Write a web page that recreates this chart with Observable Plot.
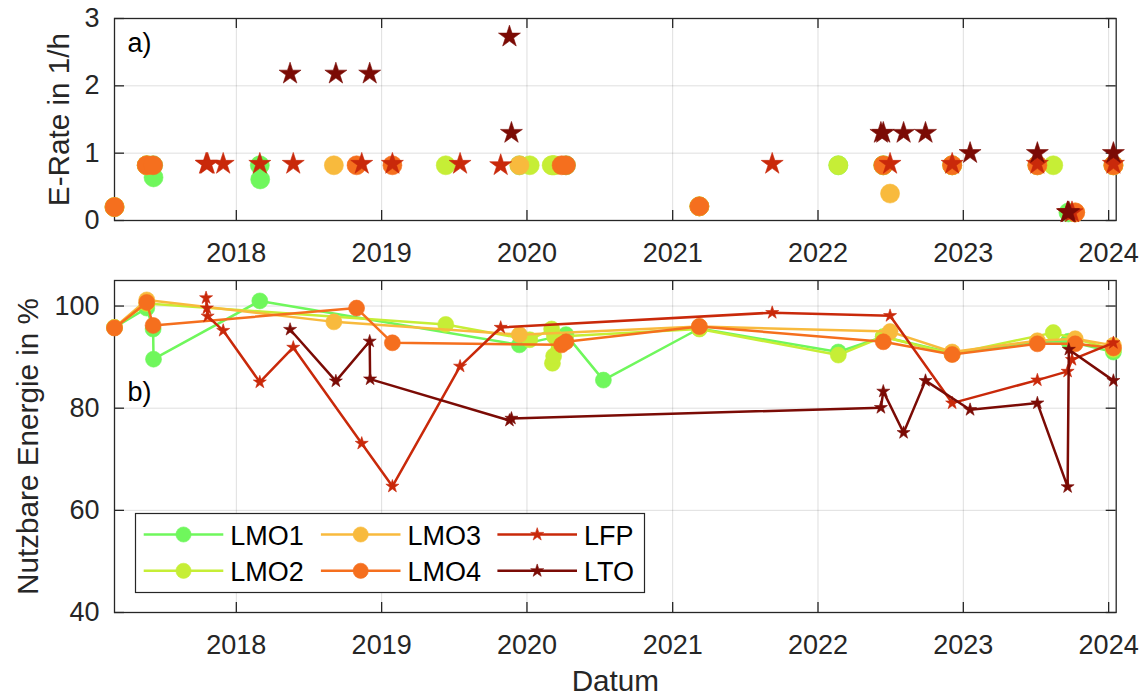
<!DOCTYPE html>
<html><head><meta charset="utf-8">
<script src="https://cdn.jsdelivr.net/npm/d3@7"></script>
<script src="https://cdn.jsdelivr.net/npm/@observablehq/plot@0.6"></script>
<style>
html,body{margin:0;padding:0;background:#fff;}
#root{position:relative;width:1145px;height:698px;overflow:hidden;background:#fff;}
#root > div{position:absolute;}
</style></head><body>
<div id="root"><div id="top" style="left:0;top:0"></div><div id="bottom" style="left:0;top:270px"></div><div id="legend" style="left:135px;top:513px"></div></div>
<script>
// ---------- data ----------
const seriesNames = ["LMO1","LMO2","LMO3","LMO4","LFP","LTO"];

const datesLMO1  = ["2017-03-01","2017-05-21","2017-06-06","2017-06-07","2018-03-01","2018-03-02","2019-12-13","2020-04-08","2020-07-11","2021-03-09","2022-02-21","2022-06-14","2022-12-04","2023-07-06","2023-09-22","2024-01-13"];
const erateLMO1  = [0.2, 0.82, 0.82, 0.64, 0.82, 0.61, 0.82, 0.82, null, 0.21, 0.82, 0.82, 0.82, 0.82, 0.12, 0.82];
const energyLMO1 = [95.8, 99.6, 95.5, 89.6, 101.0, null, 92.4, 94.4, 85.5, 95.6, 91.0, 94.0, 90.8, 93.0, 93.1, 91.0];

const datesLMO2  = ["2017-03-01","2017-05-21","2019-06-11","2020-01-08","2020-03-03","2020-03-05","2020-03-08","2020-03-10","2021-03-09","2022-02-21","2022-06-14","2022-12-04","2023-08-15","2024-01-13"];
const erateLMO2  = [0.2, 0.82, 0.82, 0.82, 0.82, 0.82, 0.82, 0.82, 0.21, 0.82, 0.82, 0.82, 0.82, 0.82];
const energyLMO2 = [95.8, 100.5, 96.4, 93.4, 95.5, 88.8, 90.2, 94.0, 95.5, 90.4, 94.0, 90.6, 94.8, 91.5];

const datesLMO3  = ["2017-03-01","2017-05-21","2018-09-03","2019-12-13","2021-03-09","2022-07-01","2022-12-04","2023-07-06","2023-10-09","2024-01-13"];
const erateLMO3  = [0.2, 0.82, 0.82, 0.82, 0.21, 0.40, 0.82, 0.82, 0.12, 0.82];
const energyLMO3 = [95.8, 101.2, 96.9, 94.4, 96.0, 95.0, 91.0, 93.2, 93.6, 92.3];

const datesLMO4  = ["2017-03-01","2017-05-21","2017-06-06","2018-10-30","2019-01-28","2020-03-28","2020-04-08","2021-03-09","2022-06-14","2022-12-04","2023-07-06","2023-10-09","2024-01-13"];
const erateLMO4  = [0.2, 0.82, 0.82, 0.82, 0.82, 0.82, 0.82, 0.21, 0.82, 0.82, 0.82, 0.12, 0.82];
const energyLMO4 = [95.7, 100.7, 96.2, 99.6, 92.8, 92.4, 93.0, 96.0, 93.0, 90.5, 92.6, 92.6, 91.8];

const datesLFP   = ["2017-10-17","2017-10-19","2017-10-21","2017-11-29","2018-03-01","2018-05-24","2018-11-12","2019-01-28","2019-07-17","2019-10-27","2021-09-08","2022-07-01","2022-12-04","2023-07-06","2023-09-20","2023-10-01","2024-01-13"];
const erateLFP   = [0.84, 0.84, 0.84, 0.84, 0.84, 0.84, 0.84, 0.84, 0.84, 0.82, 0.84, 0.84, 0.84, 0.84, 0.12, 0.12, 0.84];
const energyLFP  = [101.6, 99.6, 98.0, 95.2, 85.1, 91.9, 73.1, 64.7, 88.2, 95.8, 98.7, 98.1, 81.0, 85.5, 87.2, 89.5, 92.8];

const datesLTO   = ["2018-05-16","2018-09-08","2018-12-02","2018-12-03","2019-11-18","2019-11-23","2022-06-08","2022-06-14","2022-08-04","2022-09-28","2023-01-18","2023-07-06","2023-09-20","2023-09-23","2024-01-13"];
const erateLTO   = [2.18, 2.18, 2.18, null, 2.73, 1.30, 1.30, 1.30, 1.30, 1.30, 1.0, 1.0, 0.12, 0.12, 1.0];
const energyLTO  = [95.4, 85.3, 93.1, 85.7, 77.6, 78.0, 80.1, 83.3, 75.2, 85.4, 79.7, 81.0, 64.6, 91.5, 85.4];

const yearTicks   = [2018, 2019, 2020, 2021, 2022, 2023, 2024];
const erateTicks  = [0, 1, 2, 3];
const energyTicks = [40, 60, 80, 100];

const xLabel = "Datum";
const yLabelTop = "E-Rate in 1/h";
const yLabelBottom = "Nutzbare Energie in %";
const panelLabels = ["a)", "b)"];

// ---------- styles ----------
const seriesStyle = {
  LMO1: {color: "#6ff75c", symbol: "circle"},
  LMO2: {color: "#c6ee36", symbol: "circle"},
  LMO3: {color: "#f8ba3d", symbol: "circle"},
  LMO4: {color: "#f56f1e", symbol: "circle"},
  LFP:  {color: "#c9290a", symbol: "star"},
  LTO:  {color: "#7b0b05", symbol: "star"}
};
const seriesData = {
  LMO1: {dates: datesLMO1, erate: erateLMO1, energy: energyLMO1},
  LMO2: {dates: datesLMO2, erate: erateLMO2, energy: energyLMO2},
  LMO3: {dates: datesLMO3, erate: erateLMO3, energy: energyLMO3},
  LMO4: {dates: datesLMO4, erate: erateLMO4, energy: energyLMO4},
  LFP:  {dates: datesLFP,  erate: erateLFP,  energy: energyLFP},
  LTO:  {dates: datesLTO,  erate: erateLTO,  energy: energyLTO}
};

const W = 1145, ML = 114, MR = 29.3;
const FW = W - ML - MR;
const font = "'Liberation Sans', Arial, Helvetica, sans-serif";
const ink = "#262626";
const FS = 27, LFS = 29.7;
const xDomain = [new Date("2017-03-01"), new Date("2024-01-20")];
const yearDates = yearTicks.map(y => new Date(Date.UTC(y, 0, 1)));

function rows(name, key) {
  const s = seriesData[name];
  return s.dates.map((d, i) => ({date: new Date(d), v: s[key][i]})).filter(r => r.v != null);
}

function frameMarks(yt, fh) {
  return [
    Plot.gridX(yearDates, {stroke: "#000", strokeOpacity: 0.13, strokeWidth: 1}),
    Plot.gridY(yt, {stroke: "#000", strokeOpacity: 0.13, strokeWidth: 1}),
    Plot.frame({stroke: ink, strokeWidth: 1.3}),
    Plot.tickX(yearDates, {x: d => d, insetTop: fh - 10, stroke: ink, strokeWidth: 1.3}),
    Plot.tickX(yearDates, {x: d => d, insetBottom: fh - 10, stroke: ink, strokeWidth: 1.3}),
    Plot.tickY(yt, {y: d => d, insetRight: FW - 10, stroke: ink, strokeWidth: 1.3}),
    Plot.tickY(yt, {y: d => d, insetLeft: FW - 10, stroke: ink, strokeWidth: 1.3}),
    Plot.axisX(yearDates, {tickSize: 0, tickPadding: 22, tickFormat: d => String(d.getUTCFullYear()), fontSize: FS, fill: ink, label: null}),
    Plot.axisY(yt, {tickSize: 0, tickPadding: 15, tickFormat: d => String(d), fontSize: FS, fill: ink, label: null})
  ];
}

// ---------- top panel ----------
const topH = 270, topMT = 18, topMB = 50;
const topMarks = [...frameMarks(erateTicks, topH - topMT - topMB)];
for (const n of seriesNames) {
  const st = seriesStyle[n];
  topMarks.push(Plot.dot(rows(n, "erate"), {
    x: "date", y: "v", symbol: st.symbol, r: st.symbol === "circle" ? 9.5 : 6.9,
    fill: st.color, stroke: st.color, strokeWidth: 0.6
  }));
}
topMarks.push(Plot.text([panelLabels[0]], {text: d => d, frameAnchor: "top-left", dx: 13, dy: 33, lineAnchor: "bottom", textAnchor: "start", fontSize: FS, fill: "#000"}));
topMarks.push(Plot.text([yLabelTop], {text: d => d, frameAnchor: "left", dx: -46, rotate: -90, lineAnchor: "bottom", textAnchor: "middle", fontSize: LFS, fill: ink}));

const topPlot = Plot.plot({
  width: W, height: topH, marginLeft: ML, marginRight: MR, marginTop: topMT, marginBottom: topMB,
  x: {type: "utc", domain: xDomain},
  y: {domain: [0, 3]},
  style: {fontFamily: font, fontSize: FS + "px", color: ink, background: "transparent", overflow: "visible"},
  marks: topMarks
});
document.getElementById("top").appendChild(topPlot);

// ---------- bottom panel ----------
const botH = 428, botMT = 10, botMB = 86;
const botMarks = [...frameMarks(energyTicks, botH - botMT - botMB)];
for (const n of seriesNames) {
  const st = seriesStyle[n];
  const r = rows(n, "energy");
  botMarks.push(Plot.line(r, {x: "date", y: "v", stroke: st.color, strokeWidth: 2.5}));
  botMarks.push(Plot.dot(r, {
    x: "date", y: "v", symbol: st.symbol, r: st.symbol === "circle" ? 8 : 4.1,
    fill: st.color, stroke: st.color, strokeWidth: 0.6
  }));
}
botMarks.push(Plot.text([panelLabels[1]], {text: d => d, frameAnchor: "top-left", dx: 13, dy: 120.5, lineAnchor: "bottom", textAnchor: "start", fontSize: FS, fill: "#000"}));
botMarks.push(Plot.text([yLabelBottom], {text: d => d, frameAnchor: "left", dx: -77, rotate: -90, lineAnchor: "bottom", textAnchor: "middle", fontSize: LFS, fill: ink}));
botMarks.push(Plot.text([xLabel], {text: d => d, frameAnchor: "bottom", dy: 78, lineAnchor: "bottom", textAnchor: "middle", fontSize: LFS, fill: ink}));

const botPlot = Plot.plot({
  width: W, height: botH, marginLeft: ML, marginRight: MR, marginTop: botMT, marginBottom: botMB,
  x: {type: "utc", domain: xDomain},
  y: {domain: [40, 105]},
  style: {fontFamily: font, fontSize: FS + "px", color: ink, background: "transparent", overflow: "visible"},
  marks: botMarks
});
document.getElementById("bottom").appendChild(botPlot);

// ---------- legend ----------
const LW = 509, LH = 79;
const colX = [8.7, 185.9, 362.4];   // line start per column
const rowY = [21.5, 57.8];
const lineLen = 79.6;
const lg = d3.select("#legend").append("svg")
  .attr("width", LW + 1).attr("height", LH + 1)
  .style("font-family", font).style("overflow", "visible");
lg.append("rect").attr("x", 0.5).attr("y", 0.5).attr("width", LW).attr("height", LH)
  .attr("fill", "#fff").attr("stroke", ink).attr("stroke-width", 1.2);
seriesNames.forEach((n, i) => {
  const st = seriesStyle[n];
  const cx = colX[Math.floor(i / 2)], cy = rowY[i % 2];
  const g = lg.append("g");
  g.append("line").attr("x1", cx).attr("x2", cx + lineLen).attr("y1", cy).attr("y2", cy)
    .attr("stroke", st.color).attr("stroke-width", 2.5);
  const area = st.symbol === "circle" ? Math.PI * 7.6 * 7.6 : Math.PI * 4.1 * 4.1;
  g.append("path").attr("transform", `translate(${cx + lineLen / 2},${cy})`)
    .attr("d", d3.symbol(st.symbol === "circle" ? d3.symbolCircle : d3.symbolStar, area)())
    .attr("fill", st.color).attr("stroke", st.color).attr("stroke-width", 0.6);
  g.append("text").attr("x", cx + lineLen + 7).attr("y", cy + 10)
    .attr("font-size", FS).attr("fill", "#000").text(n);
});
</script></body></html>
